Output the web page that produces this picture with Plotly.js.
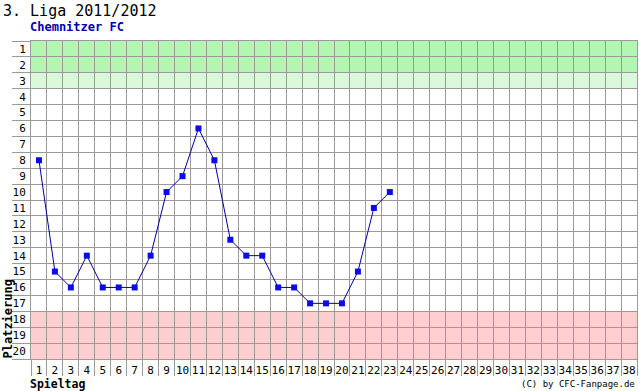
<!DOCTYPE html>
<html>
<head>
<meta charset="utf-8">
<script src="https://cdn.plot.ly/plotly-3.0.1.min.js"></script>
<style>html,body{margin:0;padding:0;background:#fff;}#chart{width:639px;height:391px;}</style>
</head>
<body>
<div id="chart"></div>
<script>
// Data
const spieltage = Array.from({length: 38}, (_, i) => i + 1);
const platzLabels = Array.from({length: 20}, (_, i) => i + 1);
const playedRounds = [1,2,3,4,5,6,7,8,9,10,11,12,13,14,15,16,17,18,19,20,21,22,23];
const platzierung = [8,15,16,14,16,16,16,14,10,9,6,8,13,14,14,16,16,17,17,17,15,11,10];
const titleText = "3. Liga 2011/2012";
const teamName = "Chemnitzer FC";
const xTitle = "Spieltag";
const yTitle = "Platzierung";
const credit = "(C) by CFC-Fanpage.de";

const mono = "DejaVu Sans Mono, monospace";
const gridCol = "#9a9a9a";

const trace = {
  x: playedRounds,
  y: platzierung,
  type: "scatter",
  mode: "lines+markers",
  line: {color: "#0000a0", width: 1},
  marker: {symbol: "square", size: 6, color: "#0a0aee"},
  hoverinfo: "skip"
};

const layout = {
  width: 639, height: 391,
  margin: {l: 31, r: 2, t: 41, b: 32},
  paper_bgcolor: "#ffffff",
  plot_bgcolor: "#ffffff",
  showlegend: false,
  title: {
    text: titleText,
    font: {family: mono, size: 15, color: "#000"},
    x: 3/639, xref: "container", xanchor: "left",
    y: 1 - 11/391, yref: "container", yanchor: "middle"
  },
  xaxis: {
    range: [0.5, 38.5],
    tickmode: "array", tickvals: spieltage, ticktext: spieltage.map(String),
    ticks: "", showgrid: false, zeroline: false,
    tickfont: {family: mono, size: 11, color: "#000"},
    ticklabelstandoff: 1,
    showline: true, mirror: true, linecolor: gridCol, linewidth: 1,
    minor: {tickmode: "linear", tick0: 0.5, dtick: 1, ticks: "outside", ticklen: 16,
            tickcolor: gridCol, tickwidth: 1, showgrid: true, gridcolor: gridCol, gridwidth: 1},
    fixedrange: true
  },
  yaxis: {
    range: [20.5, 0.5],
    tickmode: "array", tickvals: platzLabels, ticktext: platzLabels.map(String),
    ticks: "", showgrid: false, zeroline: false,
    tickfont: {family: mono, size: 11, color: "#000"},
    ticklabelstandoff: 2,
    showline: true, mirror: true, linecolor: gridCol, linewidth: 1,
    minor: {tickmode: "linear", tick0: 0.5, dtick: 1, ticks: "outside", ticklen: 18,
            tickcolor: gridCol, tickwidth: 1, showgrid: true, gridcolor: gridCol, gridwidth: 1},
    fixedrange: true
  },
  shapes: [
    {type: "rect", xref: "paper", yref: "y", x0: 0, x1: 1, y0: 0.5, y1: 2.5,
     fillcolor: "#b3f5b3", line: {width: 0}, layer: "below"},
    {type: "rect", xref: "paper", yref: "y", x0: 0, x1: 1, y0: 2.5, y1: 3.5,
     fillcolor: "#daf9da", line: {width: 0}, layer: "below"},
    {type: "rect", xref: "paper", yref: "y", x0: 0, x1: 1, y0: 17.5, y1: 20.5,
     fillcolor: "#ffcfcf", line: {width: 0}, layer: "below"}
  ],
  annotations: [
    {text: "<b>" + teamName + "</b>", xref: "paper", yref: "paper", x: 0, y: 1,
     xanchor: "left", yanchor: "middle", yshift: 14, xshift: -3, showarrow: false,
     font: {family: mono, size: 12, color: "#0000b0"}},
    {text: "<b>" + xTitle + "</b>", xref: "paper", yref: "paper", x: 0, y: 0,
     xanchor: "left", yanchor: "middle", yshift: -25, xshift: -3, showarrow: false,
     font: {family: mono, size: 11.5, color: "#000"}},
    {text: "<b>" + yTitle + "</b>", xref: "paper", yref: "paper", x: 0, y: 0,
     xanchor: "center", yanchor: "bottom", xshift: -24, yshift: -2, textangle: -90, showarrow: false,
     font: {family: mono, size: 12, color: "#000"}},
    {text: credit, xref: "paper", yref: "paper", x: 1, y: 0,
     xanchor: "right", yanchor: "middle", yshift: -25, showarrow: false,
     font: {family: mono, size: 9, color: "#000"}}
  ]
};

Plotly.newPlot("chart", [trace], layout, {displayModeBar: false, staticPlot: true});
</script>
</body>
</html>
